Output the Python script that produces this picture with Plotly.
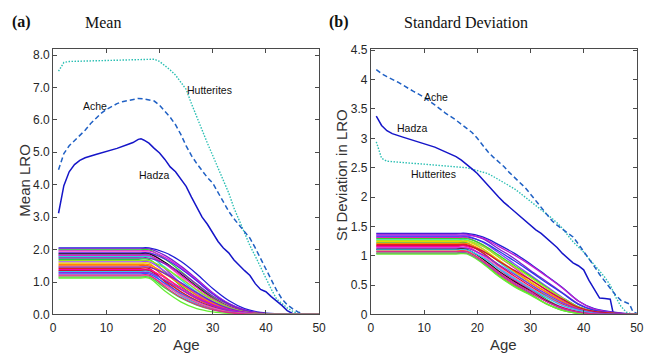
import plotly.graph_objects as go

# ---------------- data ----------------
cohort_ages = [1, 16, 18, 21, 24, 27, 30, 33, 36, 39, 42, 50]

mean_cohorts = [
    [2.05, 2.05, 2.05, 1.91, 1.64, 1.25, 0.80, 0.43, 0.18, 0.06, 0.02, 0],
    [2.02, 2.02, 2.02, 1.82, 1.49, 1.09, 0.67, 0.34, 0.14, 0.04, 0.01, 0],
    [1.99, 1.99, 1.99, 1.71, 1.33, 0.92, 0.54, 0.26, 0.10, 0.03, 0, 0],
    [1.96, 1.96, 1.96, 1.76, 1.45, 1.06, 0.65, 0.33, 0.14, 0.04, 0.01, 0],
    [1.93, 1.93, 1.93, 1.58, 1.16, 0.75, 0.42, 0.19, 0.08, 0.02, 0, 0],
    [1.90, 1.90, 1.90, 1.71, 1.41, 1.03, 0.63, 0.32, 0.13, 0.04, 0.01, 0],
    [1.87, 1.87, 1.87, 1.61, 1.25, 0.86, 0.50, 0.24, 0.09, 0.03, 0, 0],
    [1.84, 1.84, 1.84, 1.42, 0.96, 0.59, 0.31, 0.13, 0.06, 0.02, 0, 0],
    [1.81, 1.81, 1.81, 1.56, 1.21, 0.83, 0.49, 0.24, 0.09, 0.03, 0, 0],
    [1.78, 1.78, 1.78, 1.46, 1.07, 0.69, 0.39, 0.18, 0.07, 0.02, 0, 0],
    [1.74, 1.74, 1.74, 1.57, 1.29, 0.94, 0.57, 0.30, 0.12, 0.03, 0.01, 0],
    [1.70, 1.70, 1.70, 1.31, 0.88, 0.54, 0.29, 0.12, 0.05, 0.02, 0, 0],
    [1.66, 1.66, 1.66, 1.43, 1.11, 0.76, 0.45, 0.22, 0.08, 0.02, 0, 0],
    [1.62, 1.62, 1.62, 1.33, 0.97, 0.63, 0.36, 0.16, 0.06, 0.02, 0, 0],
    [1.58, 1.58, 1.58, 1.12, 0.70, 0.40, 0.19, 0.08, 0.03, 0, 0, 0],
    [1.54, 1.54, 1.54, 1.26, 0.92, 0.60, 0.34, 0.15, 0.06, 0.02, 0, 0],
    [1.50, 1.50, 1.50, 1.16, 0.78, 0.48, 0.26, 0.11, 0.05, 0.02, 0, 0],
    [1.46, 1.46, 1.46, 1.26, 0.98, 0.67, 0.39, 0.19, 0.07, 0.02, 0, 0],
    [1.42, 1.42, 1.42, 1.01, 0.62, 0.36, 0.17, 0.07, 0.03, 0, 0, 0],
    [1.38, 1.38, 1.38, 1.13, 0.83, 0.54, 0.30, 0.14, 0.06, 0.01, 0, 0],
    [1.35, 1.35, 1.35, 1.04, 0.70, 0.43, 0.23, 0.09, 0.04, 0.01, 0, 0],
    [1.32, 1.32, 1.32, 0.94, 0.58, 0.33, 0.16, 0.07, 0.03, 0, 0, 0],
    [1.29, 1.29, 1.29, 1.06, 0.77, 0.50, 0.28, 0.13, 0.05, 0.01, 0, 0],
    [1.25, 1.25, 1.25, 0.96, 0.65, 0.40, 0.21, 0.09, 0.04, 0.01, 0, 0],
    [1.18, 1.18, 1.18, 0.91, 0.61, 0.38, 0.20, 0.08, 0.04, 0.01, 0, 0],
    [1.15, 1.15, 1.15, 0.82, 0.51, 0.29, 0.14, 0.06, 0.02, 0, 0, 0],
    [1.12, 1.12, 1.12, 0.72, 0.39, 0.18, 0.08, 0.03, 0.01, 0, 0, 0],
    [1.21, 1.21, 1.21, 0.86, 0.53, 0.30, 0.15, 0.06, 0.02, 0, 0, 0],
]
mean_colors = [
    "#1f1fd6", "#7b1fd1", "#2fd82f", "#d91fd9", "#ff66cc", "#4b2be8", "#111111",
    "#9a33cc", "#e020c0", "#20d8d8", "#8822bb", "#22cc44", "#8fe81f", "#a644ff",
    "#e6d600", "#ff8800", "#ff5a1f", "#7722cc", "#e02020", "#ff00aa", "#cc1133",
    "#33c4ee", "#9922dd", "#3355ff", "#ff55aa", "#44dd44", "#66ee33", "#e0288c",
]

sd_cohorts = [
    [1.38, 1.38, 1.38, 1.32, 1.19, 1.04, 0.86, 0.66, 0.46, 0.23, 0.10, 0],
    [1.37, 1.37, 1.37, 1.29, 1.12, 0.95, 0.75, 0.56, 0.37, 0.18, 0.07, 0],
    [1.35, 1.35, 1.35, 1.30, 1.16, 1.01, 0.84, 0.65, 0.45, 0.23, 0.09, 0],
    [1.34, 1.34, 1.34, 1.23, 1.05, 0.86, 0.67, 0.48, 0.29, 0.13, 0.05, 0],
    [1.32, 1.32, 1.32, 1.24, 1.08, 0.91, 0.73, 0.54, 0.36, 0.17, 0.07, 0],
    [1.31, 1.31, 1.31, 1.18, 0.98, 0.79, 0.59, 0.41, 0.24, 0.10, 0.04, 0],
    [1.29, 1.29, 1.29, 1.19, 1.01, 0.83, 0.65, 0.46, 0.28, 0.13, 0.05, 0],
    [1.27, 1.27, 1.27, 1.12, 0.90, 0.70, 0.51, 0.33, 0.18, 0.08, 0.03, 0],
    [1.26, 1.26, 1.26, 1.16, 0.98, 0.81, 0.63, 0.45, 0.28, 0.13, 0.05, 0],
    [1.24, 1.24, 1.24, 1.12, 0.93, 0.74, 0.56, 0.38, 0.22, 0.10, 0.04, 0],
    [1.22, 1.22, 1.22, 1.05, 0.82, 0.61, 0.44, 0.26, 0.12, 0.05, 0.01, 0],
    [1.21, 1.21, 1.21, 1.09, 0.91, 0.73, 0.54, 0.38, 0.22, 0.10, 0.04, 0],
    [1.19, 1.19, 1.19, 1.05, 0.84, 0.65, 0.48, 0.31, 0.17, 0.07, 0.02, 0],
    [1.17, 1.17, 1.17, 1.08, 0.91, 0.75, 0.59, 0.42, 0.26, 0.12, 0.05, 0],
    [1.16, 1.16, 1.16, 1.00, 0.78, 0.58, 0.42, 0.24, 0.12, 0.05, 0.01, 0],
    [1.14, 1.14, 1.14, 1.00, 0.81, 0.63, 0.46, 0.30, 0.16, 0.07, 0.02, 0],
    [1.13, 1.13, 1.13, 1.02, 0.85, 0.68, 0.51, 0.35, 0.20, 0.09, 0.03, 0],
    [1.11, 1.11, 1.11, 0.95, 0.74, 0.56, 0.40, 0.23, 0.11, 0.04, 0.01, 0],
    [1.10, 1.10, 1.10, 0.97, 0.78, 0.61, 0.44, 0.29, 0.15, 0.07, 0.02, 0],
    [1.08, 1.08, 1.08, 0.91, 0.68, 0.50, 0.35, 0.18, 0.08, 0.02, 0, 0],
    [1.05, 1.05, 1.05, 0.88, 0.66, 0.48, 0.34, 0.18, 0.07, 0.02, 0, 0],
    [1.04, 1.04, 1.04, 0.89, 0.70, 0.52, 0.37, 0.22, 0.10, 0.04, 0.01, 0],
    [1.03, 1.03, 1.03, 0.87, 0.65, 0.47, 0.33, 0.18, 0.07, 0.02, 0, 0],
    [1.07, 1.07, 1.07, 0.92, 0.72, 0.54, 0.39, 0.22, 0.11, 0.04, 0.01, 0],
]
sd_colors = [
    "#1f1fd6", "#7b1fd1", "#c01fd0", "#8a3cff", "#2a3ae8", "#e020c0", "#2fd82f",
    "#20d8d8", "#a6e81f", "#e6d600", "#22cc44", "#ff8800", "#e02020", "#cc1133",
    "#ff00aa", "#ff66cc", "#9922dd", "#111111", "#33c4ee", "#ff5a1f", "#44dd44",
    "#9a33cc", "#66ee33", "#e0288c",
]

# Named populations: Mean LRO
hut_mean_age = [1, 2, 3, 5, 10, 15, 18, 19, 20, 21, 22, 23, 24, 25, 26, 27, 28, 29, 30,
                31, 32, 33, 34, 35, 36, 37, 38, 39, 40, 41, 42, 43, 44, 45, 46, 47, 50]
hut_mean = [7.50, 7.77, 7.80, 7.81, 7.84, 7.86, 7.88, 7.87, 7.80, 7.68, 7.54, 7.38, 7.17,
            6.94, 6.50, 6.08, 5.68, 5.28, 4.90, 4.50, 4.12, 3.75, 3.28, 2.88, 2.48, 2.12,
            1.80, 1.45, 1.12, 0.78, 0.48, 0.33, 0.20, 0.10, 0.03, 0, 0]

ache_mean_age = [1, 2, 3, 4, 5, 6, 7, 8, 9, 10, 11, 12, 13, 14, 15, 16, 17, 18, 19, 20, 21,
                 22, 23, 24, 25, 26, 27, 28, 29, 30, 31, 32, 33, 34, 35, 36, 37, 38, 39, 40,
                 41, 42, 43, 44, 45, 46, 47, 48, 50]
ache_mean = [4.46, 4.96, 5.20, 5.35, 5.50, 5.68, 5.88, 6.04, 6.20, 6.32, 6.42, 6.50, 6.56,
             6.60, 6.64, 6.66, 6.65, 6.62, 6.58, 6.45, 6.28, 6.08, 5.85, 5.55, 5.20, 4.90,
             4.65, 4.42, 4.22, 4.05, 3.75, 3.45, 3.18, 2.95, 2.75, 2.55, 2.35, 2.05, 1.72,
             1.38, 1.05, 0.75, 0.48, 0.30, 0.18, 0.08, 0.02, 0, 0]

hadza_mean_age = [1, 2, 3, 4, 5, 6, 8, 10, 12, 14, 15, 16, 16.5, 17, 18, 19, 20, 21, 22, 23,
                  24, 25, 26, 27, 28, 29, 30, 31, 32, 33, 34, 35, 36, 37, 38, 39, 40, 41,
                  42, 43, 44, 45, 46, 50]
hadza_mean = [3.12, 3.97, 4.40, 4.62, 4.75, 4.83, 4.93, 5.02, 5.12, 5.24, 5.30, 5.40, 5.42,
              5.38, 5.28, 5.12, 4.98, 4.78, 4.55, 4.40, 4.18, 3.95, 3.62, 3.30, 3.00, 2.78,
              2.52, 2.25, 2.05, 1.90, 1.68, 1.50, 1.35, 1.20, 0.95, 0.77, 0.70, 0.55, 0.42,
              0.28, 0.12, 0.03, 0, 0]

# Named populations: SD of LRO
ache_sd_age = [1, 2, 3, 5, 8, 10, 12, 14, 16, 17, 18, 19, 20, 21, 22, 23, 24, 25, 26, 27,
               28, 29, 30, 31, 32, 33, 34, 35, 36, 37, 38, 39, 40, 41, 42, 43, 44, 45, 46,
               47, 48, 48.6, 49.3, 50]
ache_sd = [4.17, 4.10, 4.05, 3.96, 3.80, 3.70, 3.57, 3.43, 3.31, 3.24, 3.17, 3.10, 3.00,
           2.88, 2.77, 2.68, 2.60, 2.52, 2.42, 2.33, 2.25, 2.16, 2.05, 1.94, 1.82, 1.71,
           1.60, 1.52, 1.45, 1.38, 1.32, 1.20, 1.08, 0.95, 0.82, 0.68, 0.56, 0.45, 0.33,
           0.24, 0.20, 0.18, 0.04, 0.02]

hadza_sd_age = [1, 1.5, 2, 3, 4, 6, 8, 10, 12, 14, 16, 17, 18, 19, 20, 21, 22, 23, 24, 25,
                26, 27, 28, 29, 30, 31, 32, 33, 34, 35, 36, 37, 38, 39, 40, 41, 42, 43, 44,
                45, 45.6, 50]
hadza_sd = [3.38, 3.30, 3.22, 3.13, 3.08, 3.02, 2.96, 2.90, 2.85, 2.77, 2.69, 2.63, 2.56,
            2.48, 2.40, 2.30, 2.19, 2.09, 2.00, 1.91, 1.83, 1.75, 1.68, 1.60, 1.52, 1.44,
            1.38, 1.30, 1.23, 1.14, 1.04, 0.96, 0.88, 0.83, 0.76, 0.58, 0.42, 0.28, 0.27,
            0.26, 0, 0]

hut_sd_age = [1, 1.5, 2, 3, 5, 7, 10, 15, 18, 20, 21, 22, 23, 24, 25, 26, 27, 28, 29, 30,
              31, 32, 33, 34, 35, 36, 37, 38, 39, 40, 41, 42, 43, 44, 45, 46, 47, 48, 49, 50]
hut_sd = [2.94, 2.80, 2.66, 2.61, 2.60, 2.58, 2.56, 2.53, 2.50, 2.45, 2.43, 2.40, 2.35,
          2.30, 2.25, 2.20, 2.14, 2.07, 2.00, 1.93, 1.86, 1.79, 1.72, 1.64, 1.56, 1.47,
          1.35, 1.24, 1.15, 1.06, 0.95, 0.85, 0.74, 0.63, 0.50, 0.30, 0.14, 0.04, 0.01, 0]

x_ticks = [0, 10, 20, 30, 40, 50]
mean_ticks = [0, 1, 2, 3, 4, 5, 6, 7, 8]
sd_ticks = [0, 0.5, 1, 1.5, 2, 2.5, 3, 3.5, 4, 4.5]

# ---------------- styling ----------------
HADZA_C = "#1515c8"
ACHE_C = "#1f60c4"
HUT_C = "#2bbfb3"
AXIS_C = "#4a4a4a"
TEXT_C = "#262626"
SANS = "Liberation Sans, Arial, sans-serif"
SERIF = "Liberation Serif, Times New Roman, serif"

fig = go.Figure()

def add_named(xs, ys, color, dash, width, xa, ya):
    fig.add_trace(go.Scatter(x=xs, y=ys, mode="lines", xaxis=xa, yaxis=ya,
                             line=dict(color=color, dash=dash, width=width),
                             showlegend=False, hoverinfo="skip"))

# left panel
add_named(hut_mean_age, hut_mean, HUT_C, "1.5px,1.5px", 1.4, "x", "y")
add_named(ache_mean_age, ache_mean, ACHE_C, "5px,3px", 1.5, "x", "y")
add_named(hadza_mean_age, hadza_mean, HADZA_C, "solid", 1.5, "x", "y")
for row, col in zip(mean_cohorts, mean_colors):
    fig.add_trace(go.Scatter(x=cohort_ages, y=row, mode="lines", xaxis="x", yaxis="y",
                             line=dict(color=col, width=1.3, shape="spline", smoothing=1),
                             showlegend=False, hoverinfo="skip"))

# right panel
add_named(hut_sd_age, hut_sd, HUT_C, "1.5px,1.5px", 1.4, "x2", "y2")
add_named(ache_sd_age, ache_sd, ACHE_C, "5px,3px", 1.5, "x2", "y2")
add_named(hadza_sd_age, hadza_sd, HADZA_C, "solid", 1.5, "x2", "y2")
for row, col in zip(sd_cohorts, sd_colors):
    fig.add_trace(go.Scatter(x=cohort_ages, y=row, mode="lines", xaxis="x2", yaxis="y2",
                             line=dict(color=col, width=1.3, shape="spline", smoothing=1),
                             showlegend=False, hoverinfo="skip"))

W, H = 652, 364
y_dom = [(H - 320) / H, (H - 45) / H]

axis_common = dict(showline=True, linecolor=AXIS_C, linewidth=1.2, mirror="ticks",
                   ticks="inside", ticklen=4, tickwidth=1, tickcolor=AXIS_C,
                   showgrid=False, zeroline=False,
                   tickfont=dict(family=SANS, size=12, color=TEXT_C))

fig.update_layout(
    width=W, height=H,
    margin=dict(l=0, r=0, t=0, b=0),
    paper_bgcolor="white", plot_bgcolor="white",
    xaxis=dict(domain=[51 / W, 321 / W], range=[0, 50], tickvals=x_ticks,
               anchor="y", ticklabelstandoff=2, **axis_common),
    yaxis=dict(domain=y_dom, range=[0, 8.2], tickvals=mean_ticks, tickformat=".1f",
               anchor="x", **axis_common),
    xaxis2=dict(domain=[373.7 / W, 643.7 / W], range=[0, 50], tickvals=x_ticks,
                anchor="y2", ticklabelstandoff=2, **axis_common),
    yaxis2=dict(domain=y_dom, range=[0, 4.53], tickvals=sd_ticks,
                anchor="x2", **axis_common),
)

def ann(text, x, y, size, family=SANS, angle=0, xanchor="center", color="#111111"):
    fig.add_annotation(text=text, x=x, y=y, xref="paper", yref="paper", showarrow=False,
                       textangle=angle, xanchor=xanchor, yanchor="middle",
                       font=dict(family=family, size=size, color=color))

# panel titles
ann("<b>(a)</b>", 7 / W, 1 - 18 / H, 16, SERIF, xanchor="left")
ann("Mean", 102 / W, 1 - 18 / H, 16, SERIF)
ann("<b>(b)</b>", 329 / W, 1 - 18 / H, 16, SERIF, xanchor="left")
ann("Standard Deviation", 470 / W, 1 - 18 / H, 16, SERIF)

# axis titles
ann("Mean LRO", 21 / W, 1 - 181 / H, 15, angle=-90, color="#333333")
ann("St Deviation in LRO", 343 / W, 1 - 176 / H, 15, angle=-90, color="#333333")
ann("Age", 186 / W, 1 - 351 / H, 15, color="#333333")
ann("Age", 508.7 / W, 1 - 351 / H, 15, color="#333333")

# in-plot labels
lab = dict(showarrow=False, xanchor="center", yanchor="middle",
           font=dict(family=SANS, size=10.5, color="#111111"))
fig.add_annotation(text="Hutterites", x=29.3, y=6.92, xref="x", yref="y", **lab)
fig.add_annotation(text="Ache", x=7.8, y=6.44, xref="x", yref="y", **lab)
fig.add_annotation(text="Hadza", x=19.1, y=4.29, xref="x", yref="y", **lab)
fig.add_annotation(text="Ache", x=12.3, y=3.70, xref="x2", yref="y2", **lab)
fig.add_annotation(text="Hadza", x=7.8, y=3.18, xref="x2", yref="y2", **lab)
fig.add_annotation(text="Hutterites", x=11.7, y=2.40, xref="x2", yref="y2", **lab)

fig.write_html("out.html")
